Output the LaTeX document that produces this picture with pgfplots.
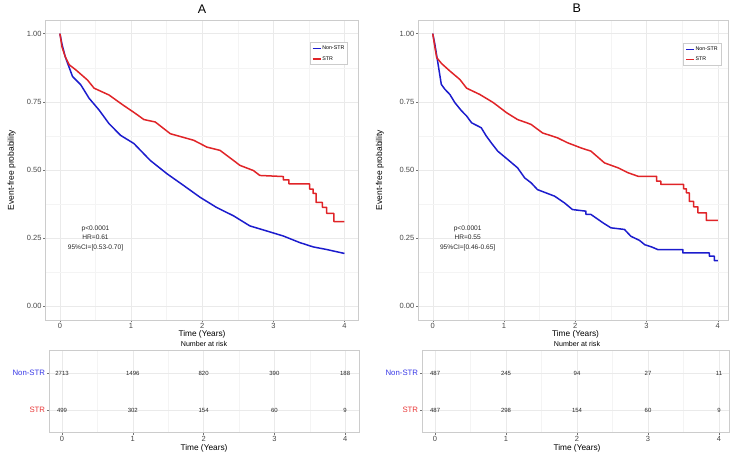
\documentclass[border=0pt]{standalone}
\usepackage{pgfplots}
\pgfplotsset{compat=1.18}
\usepackage{fontspec}
\setmainfont{Liberation Sans}

\definecolor{kmblue}{RGB}{28,28,205}
\definecolor{kmred}{RGB}{224,36,40}
\definecolor{labblue}{RGB}{55,55,230}
\definecolor{labred}{RGB}{232,55,55}
\definecolor{framegray}{RGB}{204,204,204}
\definecolor{gridmaj}{RGB}{234,234,234}
\definecolor{gridmin}{RGB}{244,244,244}

\pgfplotsset{
  km/.style={
    scale only axis,
    axis line style={framegray, line width=0.9pt},
    tick style={black!55, line width=0.5pt},
    tick align=outside, major tick length=2.5pt, minor tick length=0pt,
    xtick pos=bottom, ytick pos=left,
    xtick={0,1,2,3,4}, minor x tick num=1,
    xmajorgrids, xminorgrids, ymajorgrids,
    major grid style={gridmaj, line width=0.5pt},
    minor grid style={gridmin, line width=0.4pt},
    ticklabel style={font=\fontsize{7.5}{8}\selectfont, text=black!72},
    xticklabel style={inner sep=1pt},
    yticklabel style={inner sep=1.5pt},
    /pgf/number format/assume math mode=true,
  },
  kmmain/.style={
    km, width=313pt, height=300pt,
    xmin=-0.2, xmax=4.2, ymin=-0.05, ymax=1.05,
    ytick={0,0.25,0.5,0.75,1}, minor y tick num=1, yminorgrids,
    yticklabel style={/pgf/number format/.cd, fixed, fixed zerofill, precision=2},
    legend cell align=left,
    legend image code/.code={\draw[##1, line width=1.2pt] (0pt,0pt) -- (8pt,0pt);},
    legend style={draw=framegray, line width=0.4pt, fill=white, anchor=north west,
      font=\fontsize{5.3}{6}\selectfont, inner sep=2pt, row sep=3.5pt,
      nodes={inner sep=1pt}},
  },
  kmrisk/.style={
    km, height=81.6pt, ymin=0.4, ymax=2.6,
    ytick={1,2}, yticklabels={\textcolor{labred}{STR},\textcolor{labblue}{Non-STR}},
    yticklabel style={font=\fontsize{7.8}{8}\selectfont},
  },
  curve/.style={line width=1.5pt, line join=round},
  risknum/.style={draw=none, nodes near coords, point meta=explicit symbolic,
    every node near coord/.append style={anchor=center, font=\fontsize{6}{7}\selectfont, text=black!85}},
}

\begin{document}
\begin{tikzpicture}
\useasboundingbox (0,0) rectangle (735pt,455pt);

% ---------- panel A ----------
\begin{axis}[kmmain, at={(45.7pt,135pt)}, anchor=south west,
  legend style={at={(rel axis cs:0.844,0.925)}}]
\addplot[curve, kmblue] coordinates {
 (0,1.0)(0.03,0.96)(0.074,0.916)(0.107,0.892)(0.177,0.843)(0.294,0.812)(0.41,0.763)
 (0.55,0.72)(0.69,0.67)(0.853,0.627)(1.04,0.597)(1.27,0.535)(1.506,0.486)(1.74,0.443)
 (1.97,0.40)(2.2,0.363)(2.44,0.332)(2.67,0.295)(2.9,0.277)(3.14,0.258)(3.37,0.234)
 (3.56,0.218)(3.74,0.209)(4.0,0.194)
};
\addlegendentry{Non-STR}
\addplot[curve, kmred] coordinates {
 (0,1.0)(0.03,0.95)(0.074,0.916)(0.13,0.886)(0.224,0.867)(0.387,0.83)(0.48,0.80)
 (0.69,0.775)(0.877,0.74)(1.063,0.707)(1.18,0.685)(1.34,0.676)(1.37,0.67)(1.552,0.633)
 (1.716,0.621)(1.88,0.609)(1.97,0.597)(2.065,0.584)(2.25,0.572)(2.44,0.535)(2.53,0.517)
 (2.72,0.498)(2.81,0.48)(3.14,0.476)(3.14,0.464)(3.22,0.464)(3.22,0.449)(3.51,0.449)
 (3.51,0.43)(3.56,0.43)(3.56,0.414)(3.6,0.414)(3.6,0.381)(3.69,0.381)(3.69,0.363)
 (3.75,0.363)(3.75,0.341)(3.85,0.341)(3.85,0.311)(4.0,0.311)
};
\addlegendentry{STR}
\node[align=center, font=\fontsize{6.6}{9.5}\selectfont, text=black!85] at (axis cs:0.5,0.25)
  {p<0.0001\\HR=0.61\\95\%CI=[0.53-0.70]};
\end{axis}

\begin{axis}[kmrisk, width=310pt, xmin=-0.18, xmax=4.2, at={(49.3pt,22.7pt)}, anchor=south west]
\addplot[risknum] table[meta=n] {
x y n
0 2 2713
1 2 1496
2 2 820
3 2 390
4 2 188
0 1 499
1 1 302
2 1 154
3 1 60
4 1 9
};
\end{axis}

% ---------- panel B ----------
\begin{axis}[kmmain, width=310pt, xmax=4.15, at={(418.5pt,135pt)}, anchor=south west,
  legend style={at={(rel axis cs:0.854,0.922)}}]
\addplot[curve, kmblue] coordinates {
 (0,1.0)(0.03,0.96)(0.06,0.912)(0.09,0.863)(0.12,0.814)(0.17,0.796)(0.24,0.777)
 (0.31,0.747)(0.40,0.718)(0.475,0.698)(0.545,0.673)(0.68,0.655)(0.75,0.625)(0.82,0.60)
 (0.912,0.569)(1.05,0.539)(1.19,0.508)(1.29,0.471)(1.38,0.453)(1.47,0.428)(1.59,0.416)
 (1.71,0.404)(1.85,0.379)(1.96,0.355)(2.15,0.349)(2.15,0.337)(2.22,0.337)(2.39,0.306)
 (2.5,0.288)(2.69,0.282)(2.78,0.257)(2.9,0.242)(2.975,0.226)(3.07,0.218)(3.16,0.208)
 (3.51,0.208)(3.51,0.196)(3.88,0.196)(3.88,0.184)(3.95,0.184)(3.95,0.168)(4.0,0.168)
};
\addlegendentry{Non-STR}
\addplot[curve, kmred] coordinates {
 (0,1.0)(0.03,0.95)(0.055,0.912)(0.125,0.89)(0.24,0.863)(0.38,0.832)(0.475,0.80)
 (0.66,0.777)(0.85,0.747)(1.036,0.71)(1.19,0.685)(1.32,0.673)(1.38,0.667)(1.54,0.636)
 (1.75,0.618)(1.89,0.60)(2.08,0.581)(2.22,0.569)(2.41,0.526)(2.6,0.508)(2.74,0.49)
 (2.88,0.477)(3.14,0.477)(3.14,0.459)(3.2,0.459)(3.2,0.447)(3.52,0.447)(3.52,0.431)
 (3.56,0.431)(3.56,0.416)(3.6,0.416)(3.6,0.385)(3.66,0.385)(3.66,0.365)(3.72,0.365)
 (3.72,0.343)(3.84,0.343)(3.84,0.315)(4.0,0.315)
};
\addlegendentry{STR}
\node[align=center, font=\fontsize{6.6}{9.5}\selectfont, text=black!85] at (axis cs:0.49,0.25)
  {p<0.0001\\HR=0.55\\95\%CI=[0.46-0.65]};
\end{axis}

\begin{axis}[kmrisk, width=307pt, xmin=-0.18, xmax=4.145, at={(422.3pt,22.7pt)}, anchor=south west]
\addplot[risknum] table[meta=n] {
x y n
0 2 487
1 2 245
2 2 94
3 2 27
4 2 11
0 1 487
1 1 298
2 1 154
3 1 60
4 1 9
};
\end{axis}

% ---------- titles and axis labels ----------
\node[font=\fontsize{12.5}{14}\selectfont] at (202pt,445.5pt) {A};
\node[font=\fontsize{12.5}{14}\selectfont] at (576.7pt,446.7pt) {B};
\node[rotate=90, font=\fontsize{8.5}{10}\selectfont] at (11.7pt,285pt) {Event-free probability};
\node[rotate=90, font=\fontsize{8.5}{10}\selectfont] at (380pt,285pt) {Event-free probability};
\node[font=\fontsize{8.3}{10}\selectfont] at (202pt,120.5pt) {Time (Years)};
\node[font=\fontsize{8.3}{10}\selectfont] at (575.5pt,120.5pt) {Time (Years)};
\node[font=\fontsize{7.1}{8}\selectfont] at (204pt,111pt) {Number at risk};
\node[font=\fontsize{7.1}{8}\selectfont] at (577pt,111pt) {Number at risk};
\node[font=\fontsize{8.3}{10}\selectfont] at (204pt,6.5pt) {Time (Years)};
\node[font=\fontsize{8.3}{10}\selectfont] at (577pt,6.5pt) {Time (Years)};
\end{tikzpicture}
\end{document}
